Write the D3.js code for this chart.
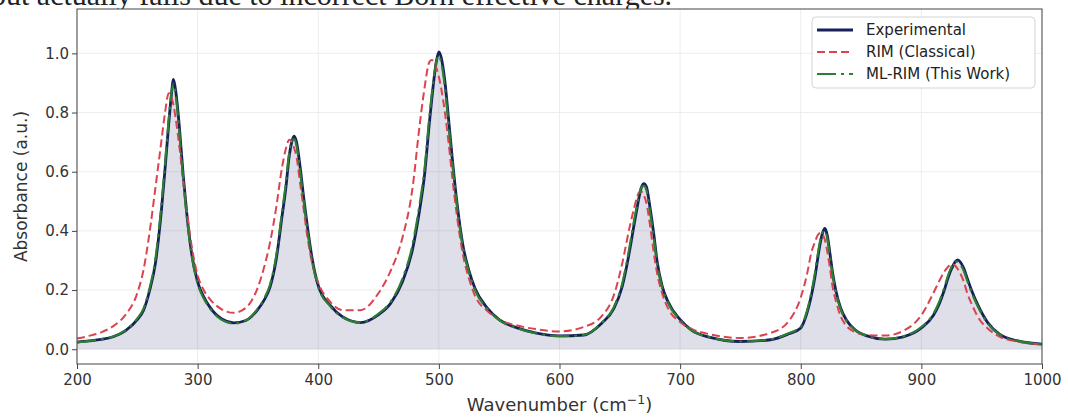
<!DOCTYPE html>
<html>
<head>
<meta charset="utf-8">
<script src="https://cdn.jsdelivr.net/npm/d3@7"></script>
<style>
    body { margin: 0; background: #ffffff; overflow: hidden; }
    svg { display: block; font-family: "DejaVu Sans", sans-serif; }
</style>
</head>
<body>
<svg width="1068" height="417"></svg>
<script>
// wavenumber grid (cm-1), denser around each band
const wavenumber = [
    200, 210, 220, 230, 240, 250, 255, 260, 265, 270,
    273, 276, 278, 280, 282, 285, 288, 291, 295, 300,
    305, 310, 320, 330, 340, 350, 355, 360, 365, 370,
    373, 376, 378, 380, 382, 385, 388, 391, 395, 400,
    410, 420, 435, 450, 460, 470, 478, 484, 488, 492,
    494, 496, 498, 500, 502, 505, 508, 511, 515, 520,
    525, 530, 540, 550, 565, 580, 600, 620, 635, 645,
    652, 658, 662, 664, 666, 668, 670, 672, 675, 678,
    681, 685, 690, 700, 710, 725, 750, 775, 790, 800,
    805, 809, 812, 814, 816, 818, 820, 822, 824, 826,
    829, 833, 838, 845, 855, 870, 885, 900, 910, 915,
    919, 922, 924, 926, 928, 930, 932, 935, 938, 942,
    947, 955, 965, 980, 1000
];

const experimental = [
    0.024, 0.028, 0.033, 0.042, 0.062, 0.100, 0.130, 0.195, 0.290, 0.470,
    0.610, 0.760, 0.850, 0.912, 0.868, 0.745, 0.590, 0.460, 0.325, 0.228,
    0.178, 0.143, 0.102, 0.089, 0.097, 0.135, 0.165, 0.210, 0.300, 0.450,
    0.540, 0.655, 0.700, 0.720, 0.700, 0.615, 0.510, 0.415, 0.305, 0.215,
    0.148, 0.110, 0.090, 0.117, 0.155, 0.230, 0.335, 0.470, 0.585, 0.760,
    0.840, 0.915, 0.975, 1.005, 0.985, 0.905, 0.780, 0.650, 0.495, 0.350,
    0.265, 0.205, 0.140, 0.100, 0.072, 0.055, 0.045, 0.048, 0.088, 0.137,
    0.212, 0.330, 0.425, 0.470, 0.515, 0.548, 0.560, 0.550, 0.480, 0.395,
    0.295, 0.215, 0.160, 0.100, 0.063, 0.040, 0.026, 0.032, 0.052, 0.072,
    0.120, 0.185, 0.250, 0.305, 0.355, 0.392, 0.408, 0.385, 0.330, 0.270,
    0.200, 0.140, 0.098, 0.066, 0.045, 0.034, 0.042, 0.072, 0.115, 0.155,
    0.200, 0.240, 0.262, 0.280, 0.295, 0.302, 0.296, 0.275, 0.240, 0.195,
    0.148, 0.090, 0.050, 0.028, 0.017
];

const rimClassical = [
    0.036, 0.045, 0.057, 0.078, 0.115, 0.190, 0.265, 0.390, 0.545, 0.705,
    0.800, 0.865, 0.855, 0.825, 0.775, 0.680, 0.575, 0.470, 0.350, 0.250,
    0.200, 0.170, 0.135, 0.123, 0.140, 0.210, 0.275, 0.360, 0.475, 0.615,
    0.675, 0.708, 0.702, 0.680, 0.650, 0.560, 0.470, 0.380, 0.290, 0.225,
    0.160, 0.132, 0.132, 0.190, 0.265, 0.380, 0.540, 0.755, 0.880, 0.970,
    0.978, 0.970, 0.950, 0.920, 0.880, 0.800, 0.700, 0.585, 0.450, 0.318,
    0.238, 0.180, 0.130, 0.100, 0.080, 0.068, 0.060, 0.075, 0.112, 0.182,
    0.290, 0.410, 0.480, 0.510, 0.530, 0.532, 0.520, 0.495, 0.420, 0.330,
    0.255, 0.190, 0.138, 0.092, 0.068, 0.050, 0.038, 0.055, 0.095, 0.175,
    0.250, 0.330, 0.365, 0.385, 0.393, 0.387, 0.370, 0.330, 0.280, 0.220,
    0.165, 0.112, 0.078, 0.058, 0.048, 0.046, 0.062, 0.115, 0.190, 0.232,
    0.262, 0.278, 0.285, 0.287, 0.282, 0.272, 0.258, 0.230, 0.190, 0.150,
    0.108, 0.070, 0.042, 0.026, 0.016
];

const mlRim = [
    0.023, 0.028, 0.034, 0.043, 0.064, 0.104, 0.136, 0.203, 0.305, 0.488,
    0.628, 0.775, 0.855, 0.898, 0.852, 0.728, 0.575, 0.448, 0.318, 0.222,
    0.172, 0.139, 0.099, 0.087, 0.097, 0.138, 0.170, 0.218, 0.312, 0.465,
    0.556, 0.665, 0.703, 0.710, 0.688, 0.600, 0.497, 0.403, 0.297, 0.210,
    0.145, 0.108, 0.090, 0.120, 0.160, 0.240, 0.350, 0.490, 0.605, 0.780,
    0.858, 0.925, 0.975, 0.992, 0.968, 0.885, 0.762, 0.635, 0.485, 0.343,
    0.260, 0.200, 0.137, 0.098, 0.071, 0.054, 0.044, 0.048, 0.090, 0.142,
    0.222, 0.345, 0.440, 0.483, 0.522, 0.548, 0.552, 0.538, 0.465, 0.382,
    0.287, 0.210, 0.156, 0.098, 0.062, 0.040, 0.026, 0.033, 0.054, 0.076,
    0.127, 0.196, 0.263, 0.318, 0.365, 0.395, 0.400, 0.375, 0.320, 0.262,
    0.194, 0.136, 0.095, 0.065, 0.044, 0.034, 0.043, 0.075, 0.120, 0.162,
    0.208, 0.248, 0.270, 0.285, 0.295, 0.296, 0.288, 0.266, 0.232, 0.188,
    0.143, 0.087, 0.049, 0.028, 0.017
];

const xTicks = [200, 300, 400, 500, 600, 700, 800, 900, 1000];
const yTicks = [0.0, 0.2, 0.4, 0.6, 0.8, 1.0];
const seriesNames = ["Experimental", "RIM (Classical)", "ML-RIM (This Work)"];

var svg = d3.select("svg"),
    W = +svg.attr("width"),
    H = +svg.attr("height");

const margin = {top: 9, right: 26, bottom: 53, left: 77};

var x = d3.scaleLinear().domain([200, 1000]).range([margin.left, W - margin.right]);
var y = d3.scaleLinear().domain([-0.05, 1.15]).range([H - margin.bottom, margin.top]);

const exp = wavenumber.map((w, i) => ({w: w, v: experimental[i]}));
const rim = wavenumber.map((w, i) => ({w: w, v: rimClassical[i]}));
const ml = wavenumber.map((w, i) => ({w: w, v: mlRim[i]}));

// page text cut off above the figure
svg.append("text")
    .attr("x", -9)
    .attr("y", 5)
    .style("font-family", "'Liberation Serif', serif")
    .style("font-size", "30px")
    .attr("fill", "#222")
    .text("but actually fails due to incorrect Born effective charges.");

svg.append("rect")
    .attr("x", margin.left).attr("y", margin.top)
    .attr("width", W - margin.left - margin.right)
    .attr("height", H - margin.top - margin.bottom)
    .attr("fill", "#ffffff");

// grid
let grid = svg.append("g").attr("class", "grid");
grid.selectAll("line.gx")
    .data(xTicks)
    .enter().append("line")
    .attr("x1", d => x(d)).attr("x2", d => x(d))
    .attr("y1", margin.top).attr("y2", H - margin.bottom)
    .attr("stroke", "#e9e9e9").attr("stroke-width", 0.8);
grid.selectAll("line.gy")
    .data(yTicks)
    .enter().append("line")
    .attr("y1", d => y(d)).attr("y2", d => y(d))
    .attr("x1", margin.left).attr("x2", W - margin.right)
    .attr("stroke", "#e9e9e9").attr("stroke-width", 0.8);

var line = d3.line()
    .x(d => x(d.w))
    .y(d => y(d.v))
    .curve(d3.curveMonotoneX);

var area = d3.area()
    .x(d => x(d.w))
    .y0(y(0))
    .y1(d => y(d.v))
    .curve(d3.curveMonotoneX);

svg.append("path")
    .datum(exp)
    .attr("d", area)
    .attr("fill", "#1f2a6b")
    .attr("fill-opacity", 0.15);

//series styles
const styles = [
    {color: "#16215c", width: 2.8, dash: null},
    {color: "#dc4350", width: 2.0, dash: "8,4"},
    {color: "#2e7d32", width: 2.2, dash: "19,5,3,5"}
];

[exp, rim, ml].forEach(function (data, i) {
    svg.append("path")
        .datum(data)
        .attr("d", line)
        .attr("fill", "none")
        .attr("stroke", styles[i].color)
        .attr("stroke-width", styles[i].width)
        .attr("stroke-dasharray", styles[i].dash)
        .attr("stroke-linejoin", "round");
});

// axes
let xAxis = svg.append("g")
    .attr("transform", "translate(0," + (H - margin.bottom) + ")")
    .call(d3.axisBottom(x).tickValues(xTicks).tickFormat(d3.format("d"))
        .tickSize(5).tickSizeOuter(0).tickPadding(5));

let yAxis = svg.append("g")
    .attr("transform", "translate(" + margin.left + ",0)")
    .call(d3.axisLeft(y).tickValues(yTicks).tickFormat(d3.format(".1f"))
        .tickSize(5).tickSizeOuter(0).tickPadding(3));

[xAxis, yAxis].forEach(function (g) {
    g.select(".domain").remove();
    g.selectAll(".tick line").attr("stroke", "#444");
    g.selectAll(".tick text")
        .attr("fill", "#333")
        .style("font-size", "15px")
        .style("font-family", "'DejaVu Sans', sans-serif");
});

// frame
svg.append("rect")
    .attr("x", margin.left).attr("y", margin.top)
    .attr("width", W - margin.left - margin.right)
    .attr("height", H - margin.top - margin.bottom)
    .attr("fill", "none")
    .attr("stroke", "#444")
    .attr("stroke-width", 1);

// axis labels
let xl = svg.append("text")
    .attr("x", (margin.left + W - margin.right) / 2)
    .attr("y", 411)
    .attr("text-anchor", "middle")
    .attr("fill", "#333")
    .style("font-size", "18px");
xl.append("tspan").text("Wavenumber (cm");
xl.append("tspan").text("\u22121").attr("dy", -7).style("font-size", "12.5px");
xl.append("tspan").text(")").attr("dy", 7);

svg.append("text")
    .attr("transform", "translate(27," + ((margin.top + H - margin.bottom) / 2) + ") rotate(-90)")
    .attr("text-anchor", "middle")
    .attr("fill", "#333")
    .style("font-size", "17px")
    .text("Absorbance (a.u.)");

// legend
let legend = svg.append("g").attr("class", "legend");
legend.append("rect")
    .attr("x", 812).attr("y", 17)
    .attr("width", 223).attr("height", 71)
    .attr("rx", 4)
    .attr("fill", "#ffffff").attr("fill-opacity", 0.85)
    .attr("stroke", "#d4d4d4");

let item = legend.selectAll("g.item")
    .data(seriesNames)
    .enter().append("g")
    .attr("transform", (d, i) => "translate(0," + (30 + i * 22) + ")");

item.append("line")
    .attr("x1", 817).attr("x2", 853)
    .attr("y1", 0).attr("y2", 0)
    .attr("stroke", (d, i) => styles[i].color)
    .attr("stroke-width", (d, i) => styles[i].width)
    .attr("stroke-dasharray", (d, i) => styles[i].dash);

item.append("text")
    .attr("x", 866)
    .attr("dy", "0.35em")
    .attr("fill", "#222")
    .style("font-size", "15px")
    .text(d => d);
</script>
</body>
</html>
